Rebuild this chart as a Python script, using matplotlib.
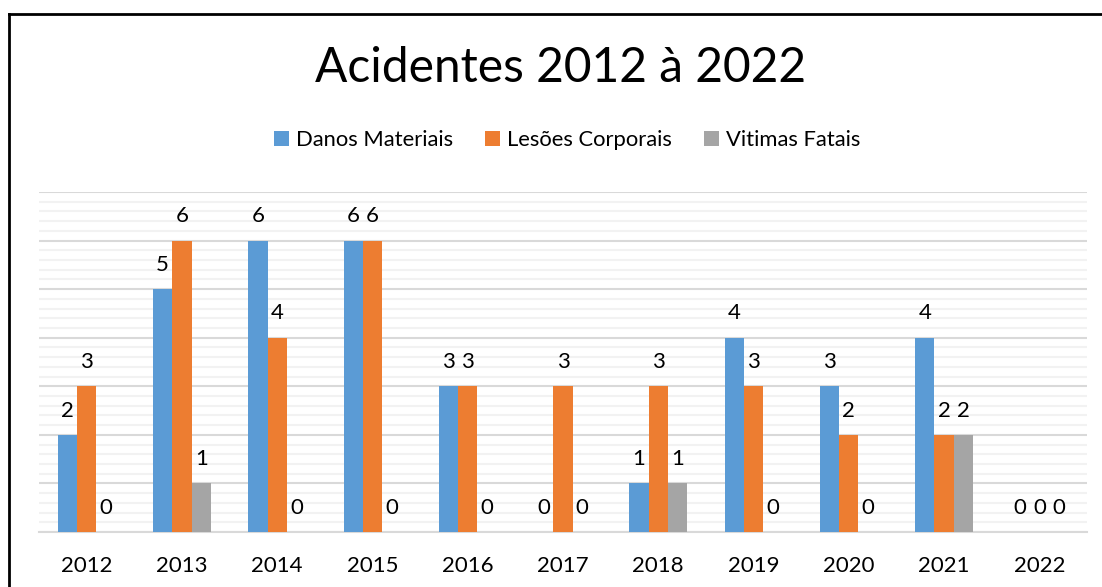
import numpy as np
import matplotlib.pyplot as plt
from matplotlib.lines import Line2D
from matplotlib.ticker import MultipleLocator

# -----------------------------
# Data
# -----------------------------

years = ["2012", "2013", "2014", "2015", "2016", "2017",
         "2018", "2019", "2020", "2021", "2022"]

danos_materiais = [2, 5, 6, 6, 3, 0, 1, 4, 3, 4, 0]
lesoes_corporais = [3, 6, 4, 6, 3, 3, 3, 3, 2, 2, 0]
vitimas_fatais = [0, 1, 0, 0, 0, 0, 1, 0, 0, 2, 0]

series_names = ["Danos Materiais", "Lesões Corporais", "Vitimas Fatais"]
colors = ["#5b9bd5", "#ed7d31", "#a5a5a5"]

plt.rcParams["font.family"] = ["Lato", "DejaVu Sans"]

# -----------------------------
# Plot
# -----------------------------

fig = plt.figure(figsize=(11.02, 5.87), dpi=100)
ax = fig.add_axes([39 / 1102, 1 - 532 / 587, 1048 / 1102, 340 / 587])

x = np.arange(len(years))
width = 0.202

all_series = [danos_materiais, lesoes_corporais, vitimas_fatais]
for i, (vals, name, c) in enumerate(zip(all_series, series_names, colors)):
    pos = x + (i - 1) * width
    ax.bar(pos, vals, width, color=c, label=name, zorder=3)
    for xb, v in zip(pos, vals):
        ax.text(xb, v + 0.5, str(v), ha="center", va="center",
                fontsize=16, color="black")

ax.set_xlim(-0.5, len(years) - 0.5)
ax.set_ylim(0, 7)

ax.yaxis.set_major_locator(MultipleLocator(1))
ax.yaxis.set_minor_locator(MultipleLocator(0.2))
ax.grid(True, which="major", axis="y", color="#d9d9d9", linewidth=1.5, zorder=0)
ax.grid(True, which="minor", axis="y", color="#f2f2f2", linewidth=1.5, zorder=0)

ax.set_xticks(x)
ax.set_xticklabels(years, fontsize=16)
ax.tick_params(axis="x", length=0, pad=17)
ax.tick_params(axis="y", which="both", length=0, labelleft=False)

for s in ["top", "right", "left"]:
    ax.spines[s].set_visible(False)
ax.spines["bottom"].set_color("#d9d9d9")
ax.spines["bottom"].set_linewidth(1.5)

fig.text(0.509, 1 - 68 / 587, "Acidentes 2012 à 2022", ha="center", va="center",
         fontsize=34.5)

fig.legend(loc="center", bbox_to_anchor=(0.5145, 1 - 140 / 587), ncol=3,
           frameon=False, fontsize=15.8, handlelength=0.7, handleheight=0.7,
           handletextpad=0.3, columnspacing=1.45)

# frame lines (top and left)
fig.add_artist(Line2D([9 / 1102, 1], [1 - 14 / 587, 1 - 14 / 587],
                      transform=fig.transFigure, color="black", linewidth=2))
fig.add_artist(Line2D([9 / 1102, 9 / 1102], [0, 1 - 14 / 587],
                      transform=fig.transFigure, color="black", linewidth=2))

fig.savefig("out.png", dpi=100)
